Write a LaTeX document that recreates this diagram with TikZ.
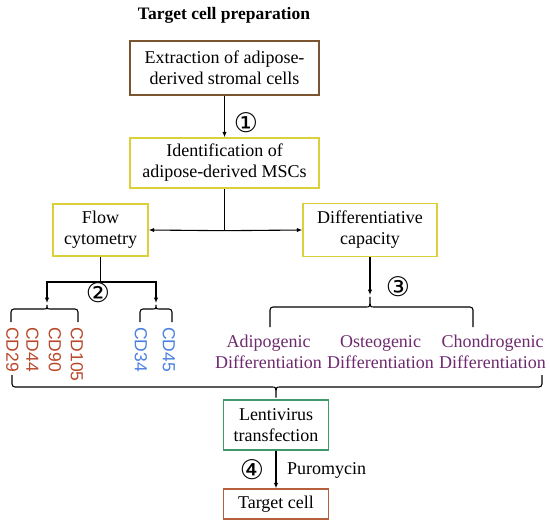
\documentclass[tikz,border=0pt]{standalone}
\usepackage{fontspec}
\setmainfont{Liberation Serif}
\newfontfamily\cdfont{Liberation Sans}
\newfontfamily\circfont{DejaVu Sans}
\usepackage{xcolor}
\usetikzlibrary{arrows.meta,positioning}
\definecolor{boxbrown}{HTML}{7A5530}
\definecolor{boxyellow}{HTML}{DCD03A}
\definecolor{boxgreen}{HTML}{3E9A6A}
\definecolor{boxorange}{HTML}{B5603A}
\definecolor{cdred}{HTML}{B8482A}
\definecolor{cdblue}{HTML}{4A80E0}
\definecolor{diffpurple}{HTML}{6E2A6E}
\newcommand{\mainsize}{\fontsize{18}{21}\selectfont}
\tikzset{
  stepbox/.style={draw=boxyellow, line width=1.4pt, fill=white, align=center,
    font=\mainsize, inner sep=2pt},
  brownbox/.style={stepbox, draw=boxbrown},
  greenbox/.style={stepbox, draw=boxgreen},
  orangebox/.style={stepbox, draw=boxorange},
  cdlabel/.style={rotate=-90, anchor=west, inner sep=0pt,
    font=\cdfont\fontsize{17.5}{20}\selectfont},
  difflabel/.style={align=center, inner sep=0pt, text=diffpurple,
    font=\fontsize{18}{21}\selectfont},
  stepnum/.style={inner sep=0pt, font=\circfont\fontsize{27}{28}\selectfont},
  arr/.style={-{Latex[length=5.5pt,width=4.5pt]}, line width=1.1pt},
  line/.style={line width=1.1pt},
  bracket/.style={line width=1.1pt, rounded corners=3pt}
}

\begin{document}
\begin{tikzpicture}[x=1pt, y=-1pt]
  \useasboundingbox (0,0) rectangle (550,527);

  \node[font=\bfseries\fontsize{17.5}{20}\selectfont] (title) at (224,15) {Target cell preparation};

  % main column
  \node[brownbox, minimum width=189pt, minimum height=54pt] (extract) at (224.5,68) {Extraction of adipose-\\derived stromal cells};
  \node[stepbox, minimum width=189pt, minimum height=50pt] (ident) at (224.5,163) {Identification of\\adipose-derived MSCs};
  \draw[arr] (extract) -- (ident);
  \node[stepnum] (one) at (246,123) {①};

  \node[stepbox, minimum width=95pt, minimum height=52pt] (flow) at (100.5,230) {Flow\\cytometry};
  \node[stepbox, minimum width=134pt, minimum height=53pt] (diff) at (370,230) {Differentiative\\capacity};
  \draw[line] (ident.south) -- ++(0,42) coordinate (split);
  \draw[arr] (split) -- (flow.east);
  \draw[arr] (split) -- (diff.west);

  % flow cytometry markers
  \coordinate (posTip) at (47,303);
  \coordinate (negTip) at (156,303);
  \draw[line] (flow.south) -- (flow.south |- 0,282) coordinate (fork);
  \draw[arr] (fork) -| (posTip);
  \draw[arr] (fork) -| (negTip);
  \node[stepnum] (two) at (98,293) {②};
  \draw[bracket] (11,322) |- (41,309) .. controls (47,309) .. (posTip) .. controls (47,309) .. (53,309) -| (78,322);
  \draw[bracket] (140,322) |- (150,309) .. controls (156,309) .. (negTip) .. controls (156,309) .. (162,309) -| (172,322);

  \node[cdlabel, text=cdred] (cd29) at (12.5,327) {CD29};
  \node[cdlabel, text=cdred] (cd44) at (32.5,327) {CD44};
  \node[cdlabel, text=cdred] (cd90) at (55,327) {CD90};
  \node[cdlabel, text=cdred] (cd105) at (77,327) {CD105};
  \node[cdlabel, text=cdblue] (cd34) at (141,327) {CD34};
  \node[cdlabel, text=cdblue] (cd45) at (169,327) {CD45};

  % differentiation
  \coordinate (diffTip) at (370,295);
  \draw[arr] (diff.south) -- (diffTip);
  \node[stepnum] (three) at (398,287) {③};
  \draw[bracket] (270,327) |- (363,307) .. controls (370,307) .. (diffTip) .. controls (370,307) .. (377,307) -| (473,327);

  \node[difflabel] (adipo) at (268.5,352) {Adipogenic\\Differentiation};
  \node[difflabel] (osteo) at (380.5,352) {Osteogenic\\Differentiation};
  \node[difflabel] (chondro) at (492.5,352) {Chondrogenic\\Differentiation};

  % transfection
  \node[greenbox, minimum width=105pt, minimum height=50pt] (lenti) at (276,425) {Lentivirus\\transfection};
  \draw[bracket] (12,375) |- (269,387) .. controls (276,387) .. (lenti.north) .. controls (276,387) .. (283,387) -| (542,375);

  \node[orangebox, minimum width=105pt, minimum height=30pt] (target) at (276,504) {Target cell};
  \draw[arr] (lenti) -- (target);
  \node[stepnum] (four) at (252,470) {④};
  \node[font=\mainsize, anchor=west, inner sep=0pt] (puro) at (287,470) {Puromycin};
\end{tikzpicture}
\end{document}
